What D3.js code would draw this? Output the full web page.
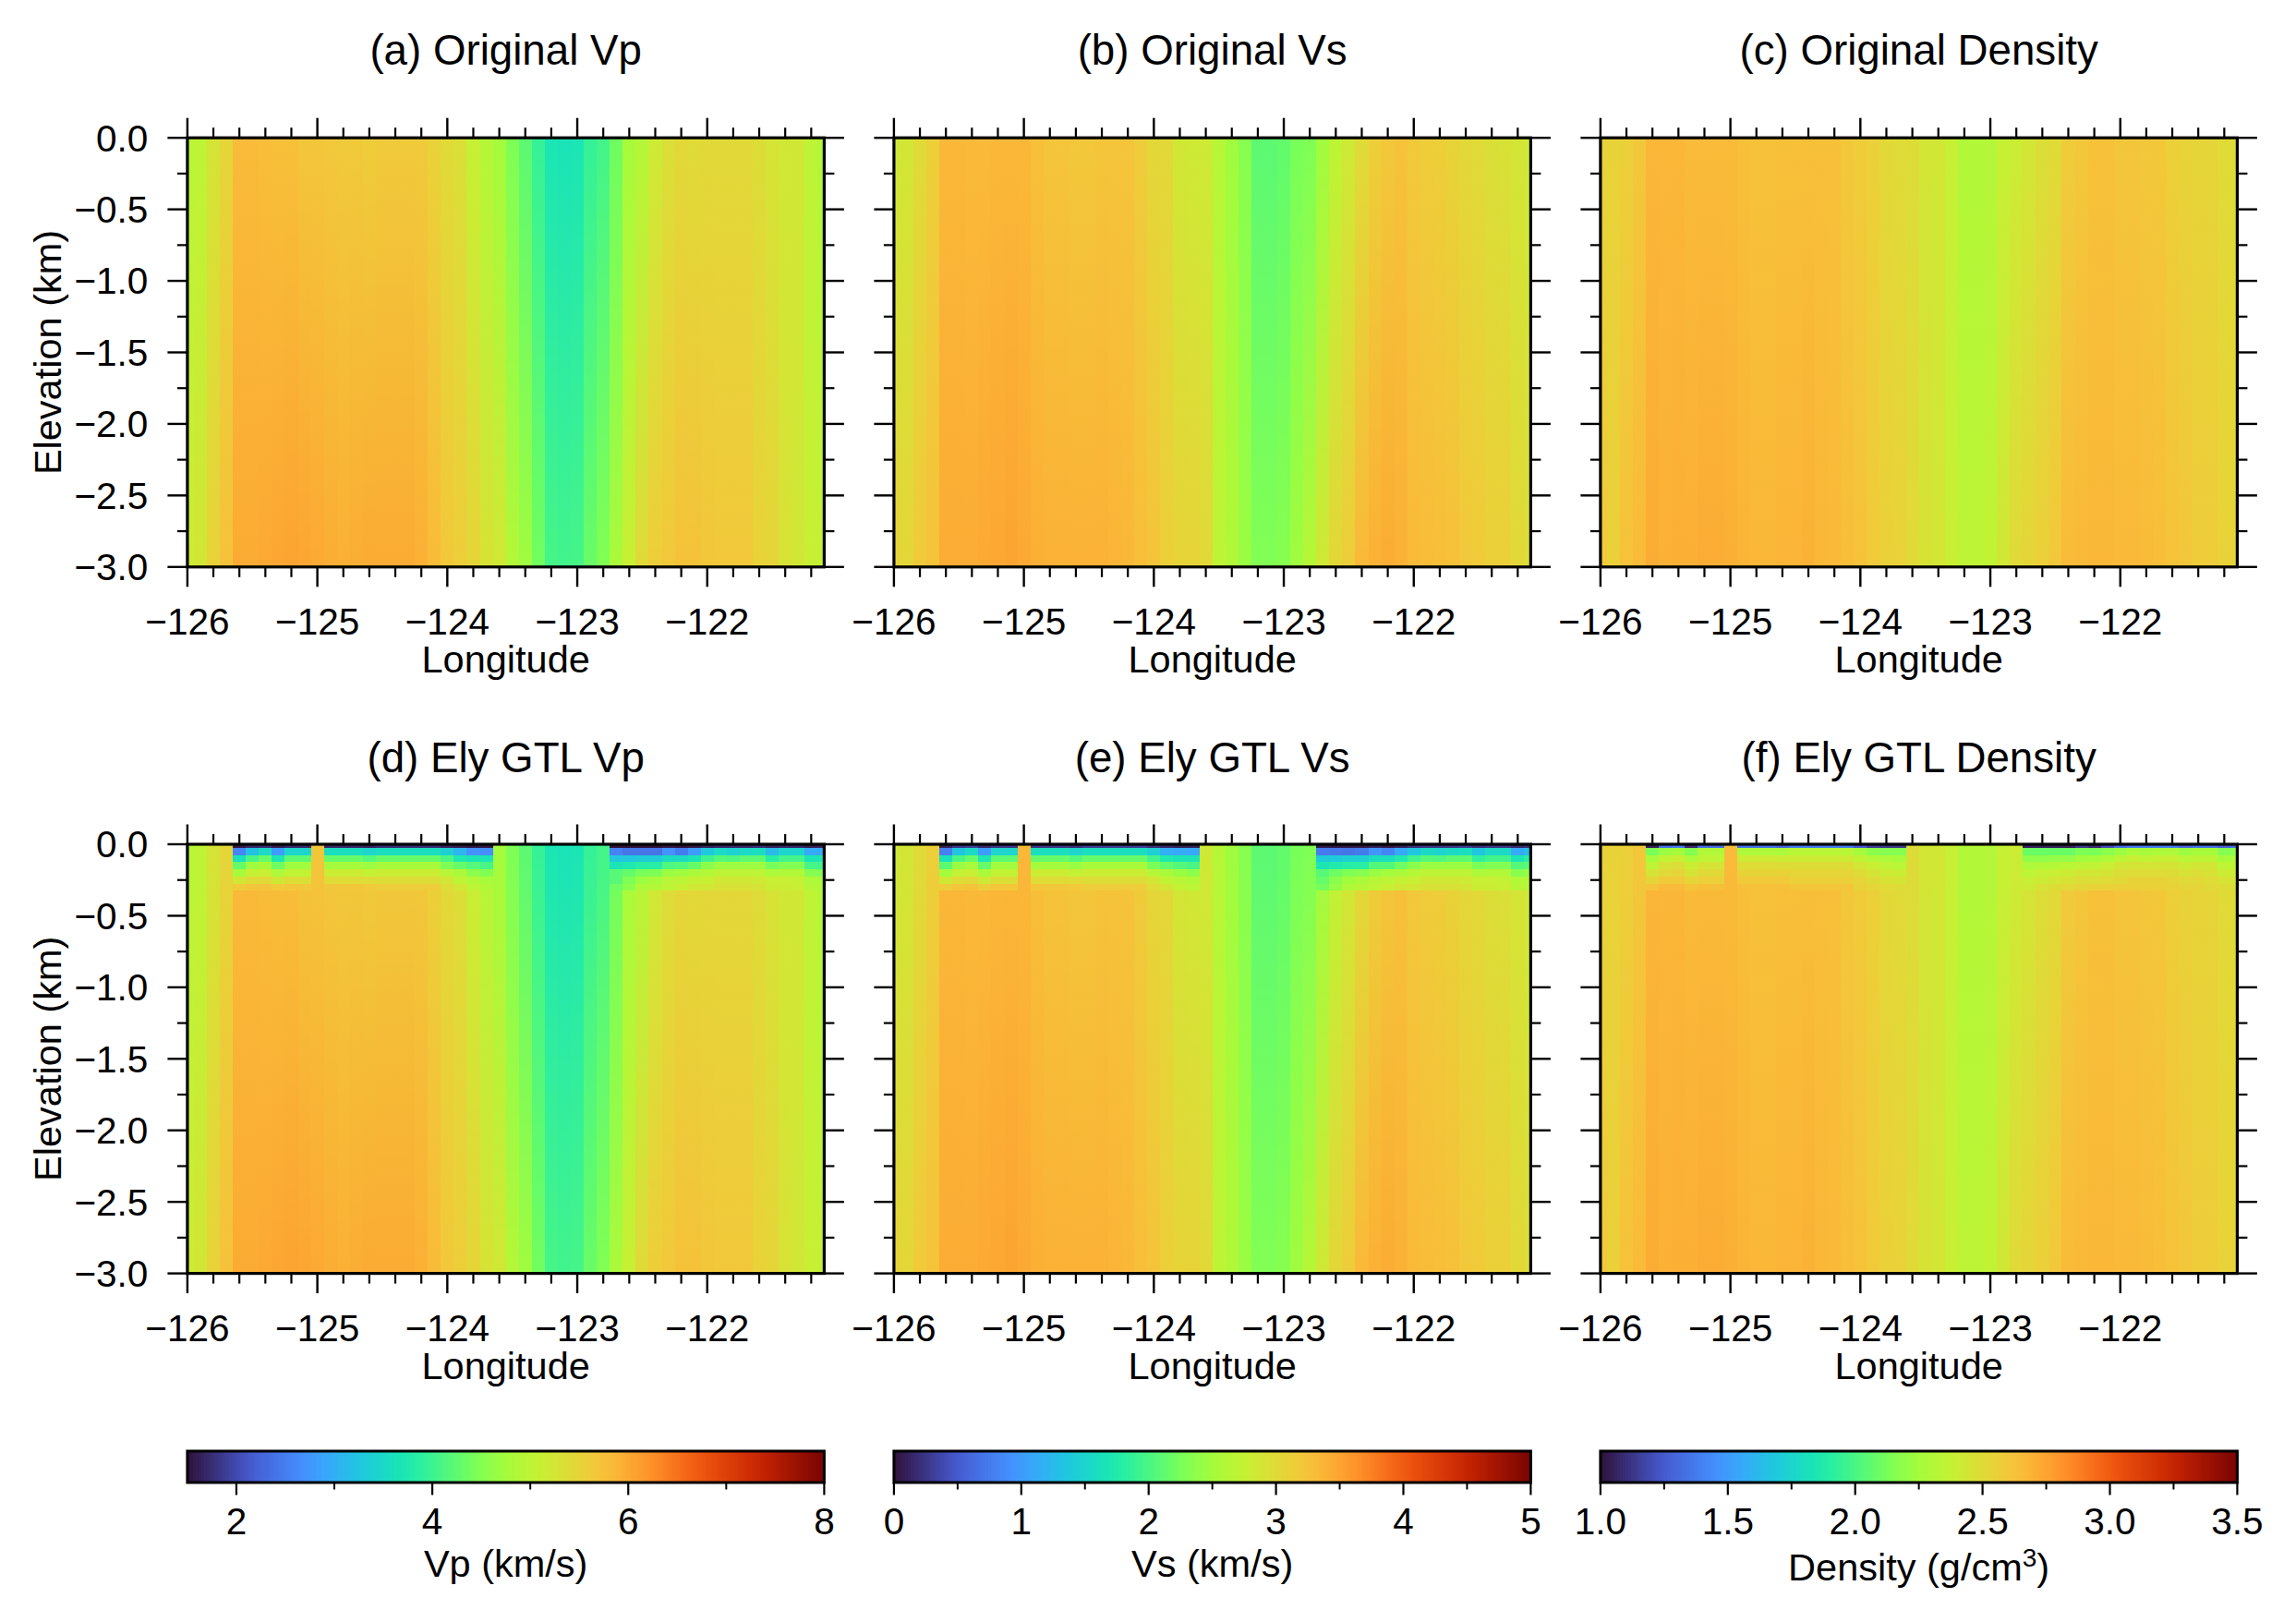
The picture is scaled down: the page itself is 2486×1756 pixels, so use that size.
<!DOCTYPE html>
<html><head><meta charset="utf-8">
<script src="https://cdn.jsdelivr.net/npm/d3@7/dist/d3.min.js"></script>
<style>html,body{margin:0;padding:0;background:#fff}svg{display:block}text{font-family:"Liberation Sans",Arial,sans-serif;fill:#000}</style>
</head><body>
<script>
// ---------- colour map stops ----------
const turboStops=[0,.0909,.1111,.1818,.2222,.2727,.3333,.3636,.4444,.4545,.5,.5455,.5556,.6364,.6667,.7273,.7778,.8182,.8889,.9091,1];
const turboColors=["#30123b","#4454c4","#4662d7","#4490fe","#36aaf9","#1fc8de","#1ae4b6","#29efa2","#72fe5e","#7dff56","#a4fc3c","#c1f334","#c8ef34","#f1ca3a","#faba39","#fe922a","#f66b19","#ea4f0d","#cb2a04","#be2102","#7a0403"];

// ---------- grid ----------
const longitudes=d3.range(50).map(i=>-126+i/10);
const gtlColumns=[4,5,6,7,8,9,11,12,13,14,15,16,17,18,19,20,21,22,23,33,34,35,36,37,38,39,40,41,42,43,44,45,46,47,48,49];
const gtlDepths=[0,-.05,-.1,-.15,-.2,-.25,-.3];
const xMajor=[-126,-125,-124,-123,-122];
const xMinor=[-125.8,-125.6,-125.4,-125.2,-124.8,-124.6,-124.4,-124.2,-123.8,-123.6,-123.4,-123.2,-122.8,-122.6,-122.4,-122.2,-121.8,-121.6,-121.4,-121.2];
const yMajor=[0,-.5,-1,-1.5,-2,-2.5,-3];
const yMinor=[-.25,-.75,-1.25,-1.75,-2.25,-2.75];

// ---------- original model, surface (0 km) and base (-3 km) ----------
const vpTop=[4.95,5.01,5.27,5.47,5.82,5.82,5.79,5.76,5.76,5.69,5.69,5.66,5.63,5.63,5.60,5.63,5.63,5.63,5.63,5.53,5.40,5.34,5.08,4.91,4.75,4.46,4.23,3.94,3.68,3.65,3.68,3.94,4.04,4.36,4.78,4.91,5.17,5.34,5.43,5.40,5.43,5.43,5.43,5.43,5.37,5.27,5.21,5.21,5.01,4.88];
const vpBottom=[5.17,5.24,5.53,5.73,5.98,5.98,6.0,6.03,6.05,6.03,6.0,5.96,5.93,5.96,5.98,5.98,5.98,5.98,5.93,5.82,5.66,5.60,5.50,5.30,5.21,4.91,4.72,4.39,4.07,4.04,4.07,4.33,4.49,4.82,5.11,5.43,5.60,5.66,5.73,5.73,5.69,5.66,5.66,5.66,5.53,5.50,5.30,5.21,5.11,5.08];
const vsTop=[2.85,2.88,3.0,3.13,3.35,3.35,3.33,3.33,3.35,3.35,3.35,3.28,3.23,3.23,3.2,3.2,3.23,3.23,3.23,3.15,3.03,3.03,2.85,2.83,2.83,2.63,2.48,2.33,2.1,2.1,2.13,2.25,2.28,2.48,2.7,2.83,3.0,3.13,3.2,3.25,3.18,3.15,3.13,3.08,3.03,3.0,2.95,2.93,2.88,2.83];
const vsBottom=[3.08,3.05,3.18,3.25,3.44,3.44,3.44,3.46,3.48,3.5,3.46,3.42,3.4,3.4,3.4,3.4,3.4,3.38,3.36,3.3,3.25,3.13,3.08,3.08,3.03,2.7,2.6,2.45,2.3,2.3,2.33,2.48,2.65,2.85,3.05,3.15,3.34,3.4,3.44,3.4,3.33,3.31,3.3,3.28,3.2,3.18,3.13,3.13,3.03,2.98];
const rhoTop=[2.54,2.54,2.56,2.60,2.68,2.68,2.68,2.66,2.66,2.66,2.66,2.64,2.63,2.63,2.64,2.64,2.64,2.64,2.64,2.60,2.58,2.56,2.51,2.50,2.49,2.44,2.43,2.38,2.30,2.30,2.31,2.38,2.40,2.44,2.48,2.50,2.58,2.60,2.63,2.63,2.61,2.61,2.60,2.60,2.56,2.54,2.53,2.53,2.50,2.50];
const rhoBottom=[2.59,2.56,2.63,2.66,2.72,2.70,2.71,2.71,2.72,2.72,2.71,2.69,2.68,2.68,2.69,2.69,2.70,2.68,2.67,2.65,2.63,2.59,2.56,2.55,2.51,2.46,2.44,2.39,2.35,2.35,2.36,2.43,2.51,2.53,2.56,2.60,2.66,2.67,2.68,2.68,2.67,2.67,2.66,2.65,2.63,2.61,2.58,2.58,2.55,2.54];

// ---------- Ely GTL rows at 0, 0.05 ... 0.30 km depth, one value per gtlColumns entry ----------
const vpGtl=[
[1.55,1.7,1.75,1.6,1.7,1.7,1.7,1.7,1.7,1.65,1.75,1.75,1.75,1.75,1.75,1.65,1.6,1.55,1.55,1.5,1.5,1.5,1.5,1.55,1.5,1.55,1.65,1.7,1.7,1.7,1.75,1.65,1.7,1.7,1.6,1.65],
[2.58,3.19,3.52,2.80,3.45,3.45,3.58,3.58,3.58,3.45,3.58,3.58,3.58,3.58,3.58,3.39,3.06,2.70,2.67,2.54,2.41,2.41,2.41,2.70,2.48,2.80,3.29,3.52,3.42,3.52,3.58,3.13,3.45,3.45,2.93,2.93],
[3.61,4.10,4.30,3.71,4.23,4.23,4.30,4.30,4.30,4.17,4.30,4.30,4.30,4.30,4.30,4.10,3.74,3.68,3.68,3.26,3.26,3.32,3.32,3.55,3.55,3.68,4.0,4.17,4.13,4.23,4.23,3.84,4.04,4.04,3.68,3.71],
[4.30,4.72,4.78,4.36,4.72,4.72,4.75,4.75,4.75,4.69,4.78,4.78,4.78,4.78,4.78,4.46,4.30,4.17,4.07,3.68,3.74,3.84,3.84,4.13,4.17,4.30,4.56,4.69,4.69,4.69,4.69,4.43,4.49,4.49,4.07,4.04],
[4.78,5.08,5.11,4.85,5.04,5.04,5.14,5.14,5.14,5.08,5.14,5.14,5.14,5.14,5.14,4.95,4.82,4.59,4.49,4.20,4.30,4.43,4.46,4.69,4.72,4.82,4.91,5.01,5.01,5.01,5.01,4.85,4.88,4.88,4.52,4.49],
[5.21,5.40,5.43,5.21,5.37,5.34,5.40,5.40,5.40,5.40,5.37,5.37,5.37,5.37,5.37,5.24,5.01,4.88,4.78,4.20,4.46,4.69,4.78,4.95,5.01,5.08,5.11,5.21,5.21,5.21,5.17,5.11,5.11,5.08,4.85,4.82],
[5.62,5.68,5.70,5.62,5.66,5.66,5.66,5.66,5.66,5.64,5.60,5.60,5.60,5.60,5.60,5.37,5.21,5.01,4.88,4.36,4.56,4.85,4.91,5.01,5.11,5.21,5.24,5.30,5.30,5.30,5.27,5.14,5.14,5.11,4.91,4.88]];
const vsGtl=[
[.1,.25,.3,.15,.25,.25,.25,.25,.25,.2,.3,.3,.3,.3,.3,.2,.15,.1,.1,.05,.05,.05,.05,.1,.05,.1,.2,.25,.25,.25,.3,.2,.25,.25,.15,.2],
[.78,1.35,1.55,1.0,1.5,1.5,1.6,1.6,1.6,1.5,1.6,1.6,1.6,1.6,1.6,1.45,1.15,1.1,1.1,.75,.73,.70,.75,.95,.83,1.1,1.35,1.55,1.5,1.55,1.6,1.35,1.55,1.55,1.1,1.25],
[1.65,2.0,2.15,1.7,2.1,2.1,2.15,2.15,2.15,2.05,2.15,2.15,2.15,2.15,2.15,1.95,1.73,1.68,1.68,1.4,1.4,1.45,1.45,1.6,1.6,1.73,1.95,2.05,2.03,2.1,2.1,1.85,1.95,1.95,1.68,1.8],
[2.1,2.45,2.53,2.15,2.48,2.48,2.5,2.5,2.5,2.45,2.53,2.53,2.53,2.53,2.53,2.25,2.13,2.05,2.0,1.68,1.75,1.8,1.8,2.05,2.05,2.2,2.35,2.45,2.45,2.45,2.45,2.25,2.3,2.3,2.05,2.1],
[2.5,2.75,2.78,2.55,2.73,2.73,2.8,2.8,2.8,2.75,2.8,2.8,2.8,2.8,2.8,2.65,2.55,2.45,2.38,2.08,2.2,2.3,2.33,2.45,2.5,2.55,2.63,2.7,2.7,2.7,2.7,2.58,2.6,2.6,2.35,2.4],
[2.85,3.0,3.03,2.85,2.98,2.95,3.0,3.0,3.0,3.0,2.98,2.98,2.98,2.98,2.98,2.88,2.73,2.65,2.6,2.15,2.35,2.48,2.55,2.65,2.7,2.75,2.78,2.85,2.85,2.85,2.83,2.78,2.78,2.75,2.6,2.63],
[3.15,3.22,3.25,3.15,3.2,3.2,3.2,3.2,3.2,3.18,3.15,3.15,3.15,3.15,3.15,3.0,2.88,2.75,2.68,2.23,2.4,2.6,2.65,2.7,2.78,2.85,2.88,2.93,2.93,2.93,2.9,2.8,2.8,2.78,2.65,2.65]];
const rhoGtl=[
[1.05,1.35,1.38,1.08,1.33,1.33,1.35,1.35,1.35,1.30,1.38,1.38,1.38,1.38,1.38,1.25,1.15,1.13,1.13,1.05,1.05,1.05,1.05,1.13,1.08,1.2,1.33,1.38,1.38,1.38,1.38,1.3,1.35,1.35,1.28,1.33],
[2.13,2.23,2.26,2.16,2.30,2.30,2.29,2.29,2.29,2.28,2.33,2.33,2.33,2.33,2.33,2.26,2.18,2.16,2.16,2.09,2.09,2.09,2.09,2.14,2.13,2.18,2.23,2.28,2.26,2.28,2.29,2.23,2.26,2.26,2.16,2.18],
[2.26,2.36,2.39,2.28,2.35,2.35,2.41,2.41,2.41,2.41,2.41,2.41,2.41,2.41,2.41,2.36,2.31,2.28,2.26,2.19,2.19,2.20,2.20,2.24,2.25,2.28,2.34,2.38,2.36,2.38,2.38,2.33,2.35,2.35,2.26,2.28],
[2.35,2.46,2.48,2.40,2.45,2.45,2.50,2.50,2.50,2.49,2.49,2.49,2.49,2.49,2.49,2.44,2.39,2.35,2.33,2.28,2.30,2.31,2.33,2.35,2.36,2.39,2.43,2.45,2.45,2.45,2.45,2.41,2.43,2.43,2.35,2.35],
[2.45,2.51,2.53,2.46,2.51,2.51,2.54,2.54,2.54,2.54,2.53,2.53,2.53,2.53,2.53,2.49,2.45,2.41,2.40,2.34,2.38,2.39,2.40,2.43,2.43,2.45,2.48,2.50,2.50,2.50,2.49,2.46,2.48,2.46,2.41,2.40],
[2.53,2.59,2.59,2.53,2.56,2.56,2.59,2.59,2.59,2.59,2.56,2.56,2.56,2.56,2.56,2.53,2.49,2.46,2.45,2.39,2.41,2.44,2.46,2.48,2.48,2.50,2.51,2.54,2.54,2.54,2.53,2.51,2.51,2.50,2.46,2.45],
[2.62,2.66,2.66,2.62,2.64,2.64,2.64,2.64,2.64,2.64,2.61,2.61,2.61,2.61,2.61,2.54,2.53,2.50,2.49,2.41,2.46,2.49,2.51,2.53,2.54,2.55,2.56,2.56,2.56,2.56,2.55,2.53,2.53,2.51,2.49,2.48]];

// ---------- text ----------
const titlesTop=["(a) Original Vp","(b) Original Vs","(c) Original Density"];
const titlesBottom=["(d) Ely GTL Vp","(e) Ely GTL Vs","(f) Ely GTL Density"];
const barDomains=[[1.5,8],[0,5],[1,3.5]];
const barMajor=[[2,4,6,8],[0,1,2,3,4,5],[1,1.5,2,2.5,3,3.5]];
const barMinor=[[3,5,7],[.5,1.5,2.5,3.5,4.5],[1.25,1.75,2.25,2.75,3.25]];
const barFormats=["d","d",".1f"];

// ---------- layout ----------
const W=2486,H=1756,FS=40.5,FL=41.5,FT=45.7;
const colX=[202.9,967.9,1732.9],plotW=689.5,plotH=464.6,rowY=[149.2,914],titleY=[70.2,836];
const barTop=1571,barH=34,tickMaj=21.5,tickMin=11;

const svg=d3.select("body").append("svg").attr("width",W).attr("height",H).attr("viewBox",`0 0 ${W} ${H}`);
svg.append("rect").attr("width",W).attr("height",H).attr("fill","#fff");
const defs=svg.append("defs");
const turbo=d3.scaleLinear().domain(turboStops).range(turboColors).interpolate(d3.interpolateRgb);
const colorFor=c=>{const s=d3.scaleLinear().domain(barDomains[c]).range([0,1]);return v=>turbo(s(v));};
const tops=[vpTop,vsTop,rhoTop],bottoms=[vpBottom,vsBottom,rhoBottom],gtls=[vpGtl,vsGtl,rhoGtl];

function styleAxis(g,sw){g.selectAll("path.domain").remove();g.selectAll("line").attr("stroke","#000").attr("stroke-width",sw);g.selectAll("text").attr("font-size",FS).attr("font-family",'"Liberation Sans",Arial,sans-serif').attr("fill","#000");}

function panel(c,r,title){
  const x0=colX[c],y0=rowY[r];
  const x=d3.scaleLinear().domain([-126,-121.1]).range([x0,x0+plotW]);
  const y=d3.scaleLinear().domain([0,-3]).range([y0,y0+plotH]);
  const col=colorFor(c);
  const g=svg.append("g");
  const hasGtl=r===1;
  longitudes.forEach((lon,i)=>{
    const id=`grad-${c}-${r}-${i}`;
    const gr=defs.append("linearGradient").attr("id",id).attr("gradientUnits","userSpaceOnUse").attr("x1",0).attr("x2",0).attr("y1",y(0)).attr("y2",y(-3));
    gr.append("stop").attr("offset",0).attr("stop-color",col(tops[c][i]));
    gr.append("stop").attr("offset",1).attr("stop-color",col(bottoms[c][i]));
    const a=x(Math.max(lon-.05,-126)),b=x(Math.min(lon+.05,-121.1));
    const start=hasGtl&&gtlColumns.includes(i)?-.325:0;
    g.append("rect").attr("x",a).attr("width",b-a).attr("y",y(start)).attr("height",y(-3)-y(start)).attr("fill",`url(#${id})`).attr("shape-rendering","crispEdges");
  });
  if(hasGtl){
    gtlDepths.forEach((d,k)=>{
      const u=y(Math.min(d+.025,0)),v=y(d-.025);
      g.selectAll(null).data(gtlColumns).enter().append("rect")
        .attr("x",j=>x(longitudes[j]-.05)).attr("width",j=>x(Math.min(longitudes[j]+.05,-121.1))-x(longitudes[j]-.05))
        .attr("y",u).attr("height",v-u).attr("shape-rendering","crispEdges")
        .attr("fill",(j,n)=>col(gtls[c][k][n]));
    });
  }
  const tv=(axis,vals,size)=>axis.tickValues(vals).tickSize(size).tickFormat("").offset(0);
  const bottomMaj=d3.axisBottom(x).tickValues(xMajor).tickSize(tickMaj).tickPadding(23).tickFormat(d3.format("d")).offset(0);
  const b=svg.append("g").attr("transform",`translate(0,${y0+plotH})`).call(bottomMaj);styleAxis(b,2.4);
  const b2=svg.append("g").attr("transform",`translate(0,${y0+plotH})`).call(tv(d3.axisBottom(x),xMinor,tickMin));styleAxis(b2,2.2);
  const t=svg.append("g").attr("transform",`translate(0,${y0})`).call(tv(d3.axisTop(x),xMajor,tickMaj));styleAxis(t,2.4);
  const t2=svg.append("g").attr("transform",`translate(0,${y0})`).call(tv(d3.axisTop(x),xMinor,tickMin));styleAxis(t2,2.2);
  const l=svg.append("g").attr("transform",`translate(${x0},0)`);
  if(c===0){l.call(d3.axisLeft(y).tickValues(yMajor).tickSize(tickMaj).tickPadding(21).tickFormat(d3.format(".1f")).offset(0));}
  else{l.call(tv(d3.axisLeft(y),yMajor,tickMaj));}
  styleAxis(l,2.4);l.selectAll("text").attr("dy",".355em");
  const l2=svg.append("g").attr("transform",`translate(${x0},0)`).call(tv(d3.axisLeft(y),yMinor,tickMin));styleAxis(l2,2.2);
  const ri=svg.append("g").attr("transform",`translate(${x0+plotW},0)`).call(tv(d3.axisRight(y),yMajor,tickMaj));styleAxis(ri,2.4);
  const ri2=svg.append("g").attr("transform",`translate(${x0+plotW},0)`).call(tv(d3.axisRight(y),yMinor,tickMin));styleAxis(ri2,2.2);
  svg.append("rect").attr("x",x0).attr("y",y0).attr("width",plotW).attr("height",plotH).attr("fill","none").attr("stroke","#000").attr("stroke-width",3.2);
  svg.append("text").attr("x",x0+plotW/2).attr("y",titleY[r]).attr("text-anchor","middle").attr("font-size",FT).text(title);
  svg.append("text").attr("x",x0+plotW/2).attr("y",y0+plotH+114.4).attr("text-anchor","middle").attr("font-size",FL).text("Longitude");
  if(c===0){svg.append("text").attr("transform",`translate(66,${y0+plotH/2}) rotate(-90)`).attr("text-anchor","middle").attr("font-size",FL).text("Elevation (km)");}
}
titlesTop.forEach((t,c)=>panel(c,0,t));
titlesBottom.forEach((t,c)=>panel(c,1,t));

// ---------- colour bars ----------
function colorbar(c){
  const x0=colX[c];
  const x=d3.scaleLinear().domain(barDomains[c]).range([x0,x0+plotW]);
  const col=colorFor(c);
  const n=230,vals=d3.range(n).map(i=>barDomains[c][0]+(barDomains[c][1]-barDomains[c][0])*i/n);
  const step=(barDomains[c][1]-barDomains[c][0])/n;
  svg.append("g").selectAll("rect").data(vals).enter().append("rect")
    .attr("x",v=>x(v)).attr("width",(v,i)=>i===n-1?x(v+step)-x(v):x(v+step)-x(v)+.6).attr("y",barTop).attr("height",barH)
    .attr("fill",v=>col(v+step/2));
  svg.append("rect").attr("x",x0).attr("y",barTop).attr("width",plotW).attr("height",barH).attr("fill","none").attr("stroke","#000").attr("stroke-width",3);
  const a=svg.append("g").attr("transform",`translate(0,${barTop+barH})`)
    .call(d3.axisBottom(x).tickValues(barMajor[c]).tickSize(13.5).tickPadding(14).tickFormat(d3.format(barFormats[c])).offset(0));styleAxis(a,2.2);
  const a2=svg.append("g").attr("transform",`translate(0,${barTop+barH})`)
    .call(d3.axisBottom(x).tickValues(barMinor[c]).tickSize(7.5).tickFormat("").offset(0));styleAxis(a2,2);
}
[0,1,2].forEach(colorbar);
const cx=c=>colX[c]+plotW/2;
svg.append("text").attr("x",cx(0)).attr("y",1707).attr("text-anchor","middle").attr("font-size",FL).text("Vp (km/s)");
svg.append("text").attr("x",cx(1)).attr("y",1707).attr("text-anchor","middle").attr("font-size",FL).text("Vs (km/s)");
const dl=svg.append("text").attr("x",cx(2)).attr("y",1711).attr("text-anchor","middle").attr("font-size",FL);
dl.append("tspan").text("Density (g/cm");
dl.append("tspan").attr("dy",-15).attr("font-size",28).text("3");
dl.append("tspan").attr("dy",15).text(")");
</script>
</body></html>
